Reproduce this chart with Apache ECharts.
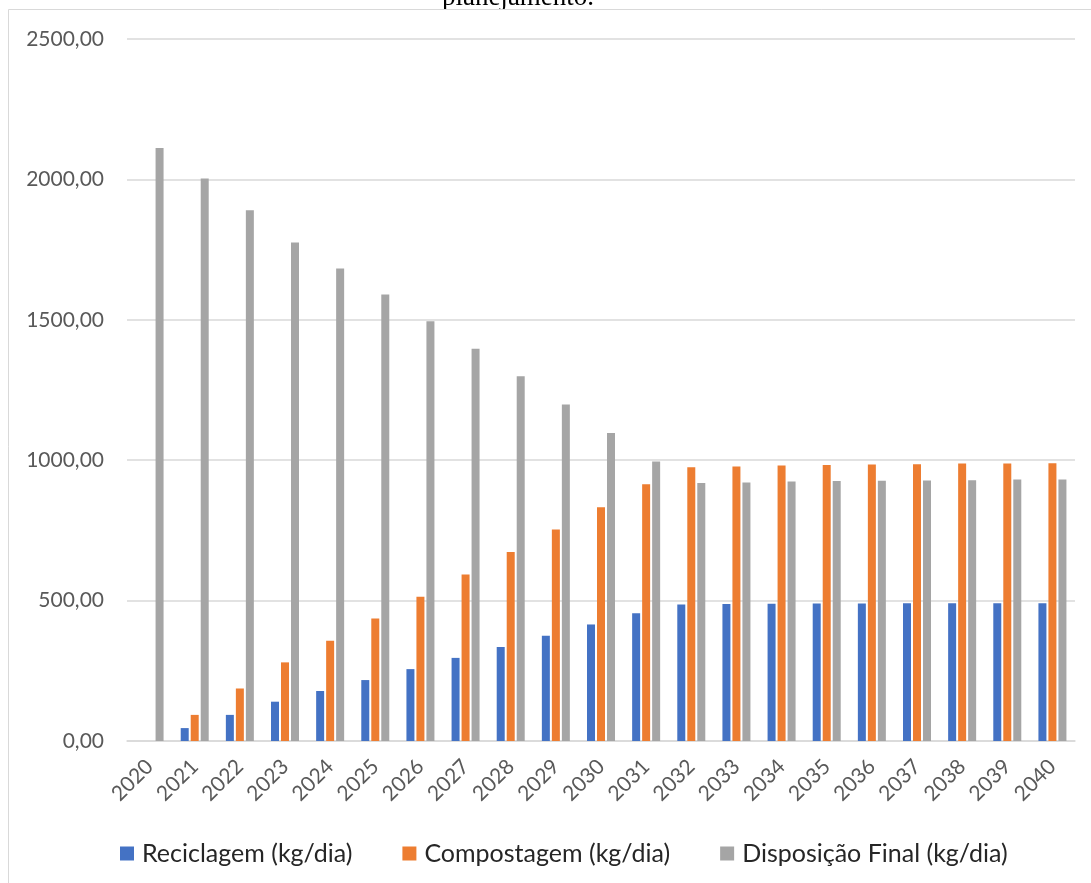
<!DOCTYPE html>
<html>
<head>
<meta charset="utf-8">
<script src="https://cdn.jsdelivr.net/npm/echarts@6/dist/echarts.min.js"></script>
<style>
  html, body { margin: 0; padding: 0; background: #ffffff; }
  #chart { width: 1091px; height: 883px; }
</style>
</head>
<body>
<div id="chart"></div>
<script>
// Anos do horizonte de planejamento
const anos = ['2020','2021','2022','2023','2024','2025','2026','2027','2028','2029','2030',
              '2031','2032','2033','2034','2035','2036','2037','2038','2039','2040'];

// Reciclagem (kg/dia)
const reciclagem = [0, 46, 93, 140, 178, 217, 256, 296, 335, 375, 415,
                    455, 486, 488, 489, 490, 490, 491, 491, 491, 491];

// Compostagem (kg/dia)
const compostagem = [0, 93, 187, 280, 357, 436, 514, 593, 673, 753, 832,
                     914, 975, 978, 981, 983, 985, 986, 988, 988, 989];

// Disposição final (kg/dia)
const disposicao = [2112, 2003, 1890, 1775, 1683, 1590, 1495, 1397, 1299, 1198, 1097,
                    995, 919, 921, 924, 926, 927, 928, 929, 931, 931];

const nomes = ['Reciclagem (kg/dia)', 'Compostagem (kg/dia)', 'Disposição Final (kg/dia)'];
const cores = ['#4472C4', '#ED7D31', '#A5A5A5'];

const fonte = 'Lato, "Open Sans", sans-serif';
const corTexto = '#595959';

const chart = echarts.init(document.getElementById('chart'), null, { renderer: 'canvas' });

function serie(nome, dados, cor) {
  return {
    name: nome,
    type: 'bar',
    z: 6,
    data: dados,
    barWidth: 8,
    barGap: '25%',
    itemStyle: { color: cor },
    emphasis: { disabled: true }
  };
}

chart.setOption({
  animation: false,
  backgroundColor: '#ffffff',
  graphic: [
    {
      // última linha do texto acima do gráfico
      type: 'text',
      x: 518,
      y: -2,
      z: 1,
      style: {
        text: 'planejamento.',
        font: '27px "Liberation Serif", "Times New Roman", serif',
        fill: '#000000',
        align: 'center',
        verticalAlign: 'middle'
      },
      silent: true
    },
    {
      // área do gráfico (fundo branco com moldura)
      type: 'rect',
      shape: { x: 8.5, y: 9.5, width: 1100, height: 900 },
      style: { fill: '#ffffff', stroke: '#d9d9d9', lineWidth: 1 },
      silent: true,
      z: 2
    }
  ],
  grid: { left: 127, right: 16, top: 39, bottom: 142, containLabel: false, z: 3 },
  legend: {
    data: nomes,
    left: 115,
    top: 836,
    z: 5,
    icon: 'rect',
    itemWidth: 14,
    itemHeight: 14,
    itemGap: 50,
    textStyle: { fontFamily: fonte, fontSize: 25, color: '#262626', padding: [0, 0, 0, 3] }
  },
  xAxis: {
    type: 'category',
    data: anos,
    z: 4,
    axisLine: { show: true, lineStyle: { color: '#d9d9d9', width: 1.5 } },
    axisTick: { show: false },
    axisLabel: {
      rotate: 45,
      interval: 0,
      margin: 22,
      fontFamily: fonte,
      fontSize: 21,
      color: corTexto
    }
  },
  yAxis: {
    type: 'value',
    min: 0,
    max: 2500,
    interval: 500,
    z: 4,
    axisLine: { show: false },
    axisTick: { show: false },
    splitLine: { lineStyle: { color: '#d9d9d9', width: 1.5 } },
    axisLabel: {
      margin: 23,
      fontFamily: fonte,
      fontSize: 21,
      color: corTexto,
      formatter: v => v.toFixed(2).replace('.', ',')
    }
  },
  series: [
    serie(nomes[0], reciclagem, cores[0]),
    serie(nomes[1], compostagem, cores[1]),
    serie(nomes[2], disposicao, cores[2])
  ]
});
</script>
</body>
</html>
